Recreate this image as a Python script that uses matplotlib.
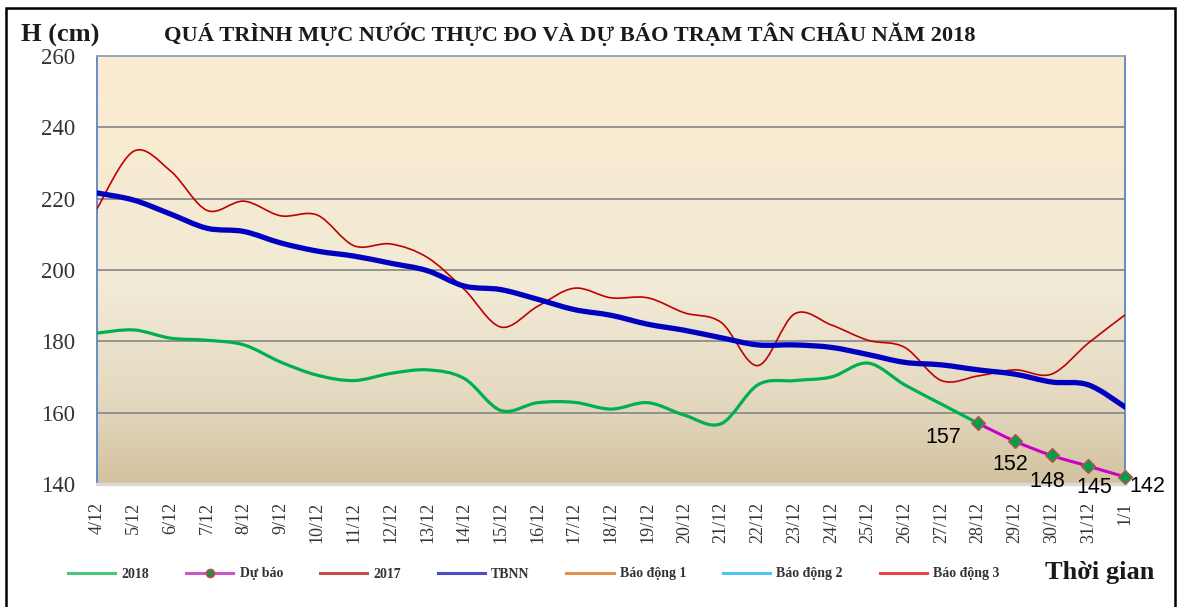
import numpy as np
import matplotlib
matplotlib.use("Agg")
import matplotlib.pyplot as plt
from matplotlib.path import Path
from matplotlib.patches import PathPatch, Rectangle
from matplotlib.lines import Line2D
from matplotlib.colors import LinearSegmentedColormap

# ---------------- data ----------------
dates = ["4/12", "5/12", "6/12", "7/12", "8/12", "9/12", "10/12", "11/12", "12/12",
         "13/12", "14/12", "15/12", "16/12", "17/12", "18/12", "19/12", "20/12",
         "21/12", "22/12", "23/12", "24/12", "25/12", "26/12", "27/12", "28/12",
         "29/12", "30/12", "31/12", "1/1"]

h2018 = [182.3, 183.2, 180.9, 180.3, 179.0, 174.2, 170.5, 169.0, 171.0, 172.0,
         169.6, 160.6, 162.8, 162.9, 161.0, 162.8, 159.3, 156.9, 167.8, 169.0,
         170.0, 173.9, 167.8, 162.4, 157.0]
forecast = [157, 152, 148, 145, 142]
forecast_start = 24
h2017 = [217.2, 233.3, 227.8, 216.7, 219.3, 215.2, 215.4, 206.8, 207.3, 203.5,
         194.6, 184.0, 189.8, 194.9, 192.2, 192.2, 188.0, 185.3, 173.2, 187.7,
         184.6, 180.3, 178.3, 169.0, 170.3, 172.0, 170.8, 179.5, 187.4]
tbnn = [221.6, 219.6, 215.7, 211.7, 210.8, 207.6, 205.3, 203.9, 201.9, 199.8,
        195.5, 194.5, 191.8, 188.9, 187.3, 184.8, 183.1, 181.0, 179.0, 179.0,
        178.3, 176.3, 174.1, 173.4, 172.0, 170.8, 168.6, 167.8, 161.6]

y_ticks = [140, 160, 180, 200, 220, 240, 260]
title = "QUÁ TRÌNH MỰC NƯỚC THỰC ĐO VÀ DỰ BÁO TRẠM TÂN CHÂU NĂM 2018"

# ---------------- figure ----------------
W, H = 1181, 607
fig = plt.figure(figsize=(W / 100, H / 100), dpi=100)
fig.patch.set_facecolor("white")

ax = fig.add_axes([97 / W, 1 - 484 / H, (1125 - 97) / W, (484 - 56) / H])
ax.set_xlim(0, len(dates) - 1)
ax.set_ylim(140, 260)

# gradient background
cmap = LinearSegmentedColormap.from_list(
    "bg", [(0.0, "#D3C29F"), (0.2, "#E4D9C0"), (0.45, "#F1EAD6"), (1.0, "#FCECD0")])
grad = np.linspace(0, 1, 256).reshape(-1, 1)
ax.imshow(grad, extent=[0, 1, 0, 1], transform=ax.transAxes, aspect="auto",
          cmap=cmap, origin="lower", zorder=0)

for yv in y_ticks[1:-1]:
    ax.axhline(yv, color="#8C8C8C", lw=1.3, zorder=1)

for side in ["left", "right"]:
    ax.spines[side].set_color("#5B86C5")
    ax.spines[side].set_linewidth(1.3)
ax.spines["top"].set_color("#8FA2BC")
ax.spines["top"].set_linewidth(1.3)
ax.spines["bottom"].set_color("#D9D9D9")
ax.spines["bottom"].set_linewidth(2.5)

ax.set_yticks(y_ticks)
ax.set_yticklabels([str(v) for v in y_ticks], fontfamily="Liberation Serif",
                   fontsize=16.5, color="#333333")
ax.set_xticks(range(len(dates)))
ax.set_xticklabels(dates, rotation=90, fontfamily="Liberation Serif",
                   fontsize=13, color="#333333")
ax.tick_params(axis="both", length=0)
ax.tick_params(axis="y", pad=16)
ax.tick_params(axis="x", pad=13)


def smooth_path(xs, ys):
    pts = np.column_stack([xs, ys]).astype(float)
    n = len(pts)
    verts = [pts[0]]
    codes = [Path.MOVETO]
    for i in range(n - 1):
        p0 = pts[i - 1] if i > 0 else pts[i]
        p1 = pts[i]
        p2 = pts[i + 1]
        p3 = pts[i + 2] if i + 2 < n else pts[i + 1]
        c1 = p1 + (p2 - p0) / 6.0
        c2 = p2 - (p3 - p1) / 6.0
        verts += [c1, c2, p2]
        codes += [Path.CURVE4] * 3
    return Path(verts, codes)


def draw_smooth(xs, ys, color, lw, z):
    patch = PathPatch(smooth_path(xs, ys), facecolor="none", edgecolor=color,
                      lw=lw, zorder=z, capstyle="round", joinstyle="round")
    ax.add_patch(patch)


x_all = np.arange(len(dates))
draw_smooth(x_all, h2017, "#C00000", 1.2, 3)
draw_smooth(x_all, tbnn, "#0000C0", 3.8, 4)
draw_smooth(x_all[:len(h2018)], h2018, "#00B050", 2.3, 5)
xf = np.arange(forecast_start, forecast_start + len(forecast))
draw_smooth(xf, forecast, "#CC00CC", 2.2, 6)
ax.plot(xf, forecast, linestyle="none", marker="D", markersize=7.5,
        markerfacecolor="#00A04A", markeredgecolor="#C0504D", markeredgewidth=1.0,
        zorder=7, clip_on=False)

# data labels
offsets = [(-25, -10), (-3, -17), (-3, -19), (4, -15), (16, -7)]
for xi, v, off in zip(xf, forecast, offsets):
    ax.annotate(str(v), (xi, v), xytext=off, textcoords="offset points",
                ha="center", va="center", fontsize=15.5, fontfamily="Liberation Sans",
                color="black", zorder=8, annotation_clip=False)

# titles
fig.text(570 / W, 1 - 34 / H, title, ha="center", va="center",
         fontfamily="Liberation Serif", fontweight="bold", fontsize=16.1, color="#1a1a1a")
fig.text(21 / W, 1 - 35 / H, "H (cm)", ha="left", va="center",
         fontfamily="Liberation Serif", fontweight="bold", fontsize=19, color="#1a1a1a")
fig.text(1045 / W, 1 - 572 / H, "Thời gian", ha="left", va="center",
         fontfamily="Liberation Serif", fontweight="bold", fontsize=19, color="#1a1a1a")

# legend
handles = [
    Line2D([], [], color="#4CC47A", lw=2.2),
    Line2D([], [], color="#CC55CC", lw=2.2, marker="o", markersize=6,
           markerfacecolor="#2E8B3E", markeredgecolor="#C0504D"),
    Line2D([], [], color="#C84B4B", lw=2.2),
    Line2D([], [], color="#4B4BC8", lw=2.2),
    Line2D([], [], color="#E8914A", lw=2.2),
    Line2D([], [], color="#4FC3F0", lw=2.2),
    Line2D([], [], color="#EE4444", lw=2.2),
]
labels = ["2018", "Dự báo", "2017", "TBNN", "Báo động 1", "Báo động 2", "Báo động 3"]
leg = fig.legend(handles, labels, loc="center left", bbox_to_anchor=(68 / W, 1 - 574 / H),
                 ncol=7, frameon=False, handlelength=3.4, handletextpad=0.45,
                 columnspacing=2.65, borderpad=0, borderaxespad=0,
                 prop={"family": "Liberation Serif", "weight": "bold", "size": 10})
for t in leg.get_texts():
    t.set_color("#333333")

# outer frame
fig.add_artist(Rectangle((6 / W, -0.02), (1175 - 6) / W, 1 - 8 / H + 0.02,
                         transform=fig.transFigure, fill=False, edgecolor="black",
                         lw=1.8, zorder=10))

fig.savefig("out.png", dpi=100, facecolor="white")
